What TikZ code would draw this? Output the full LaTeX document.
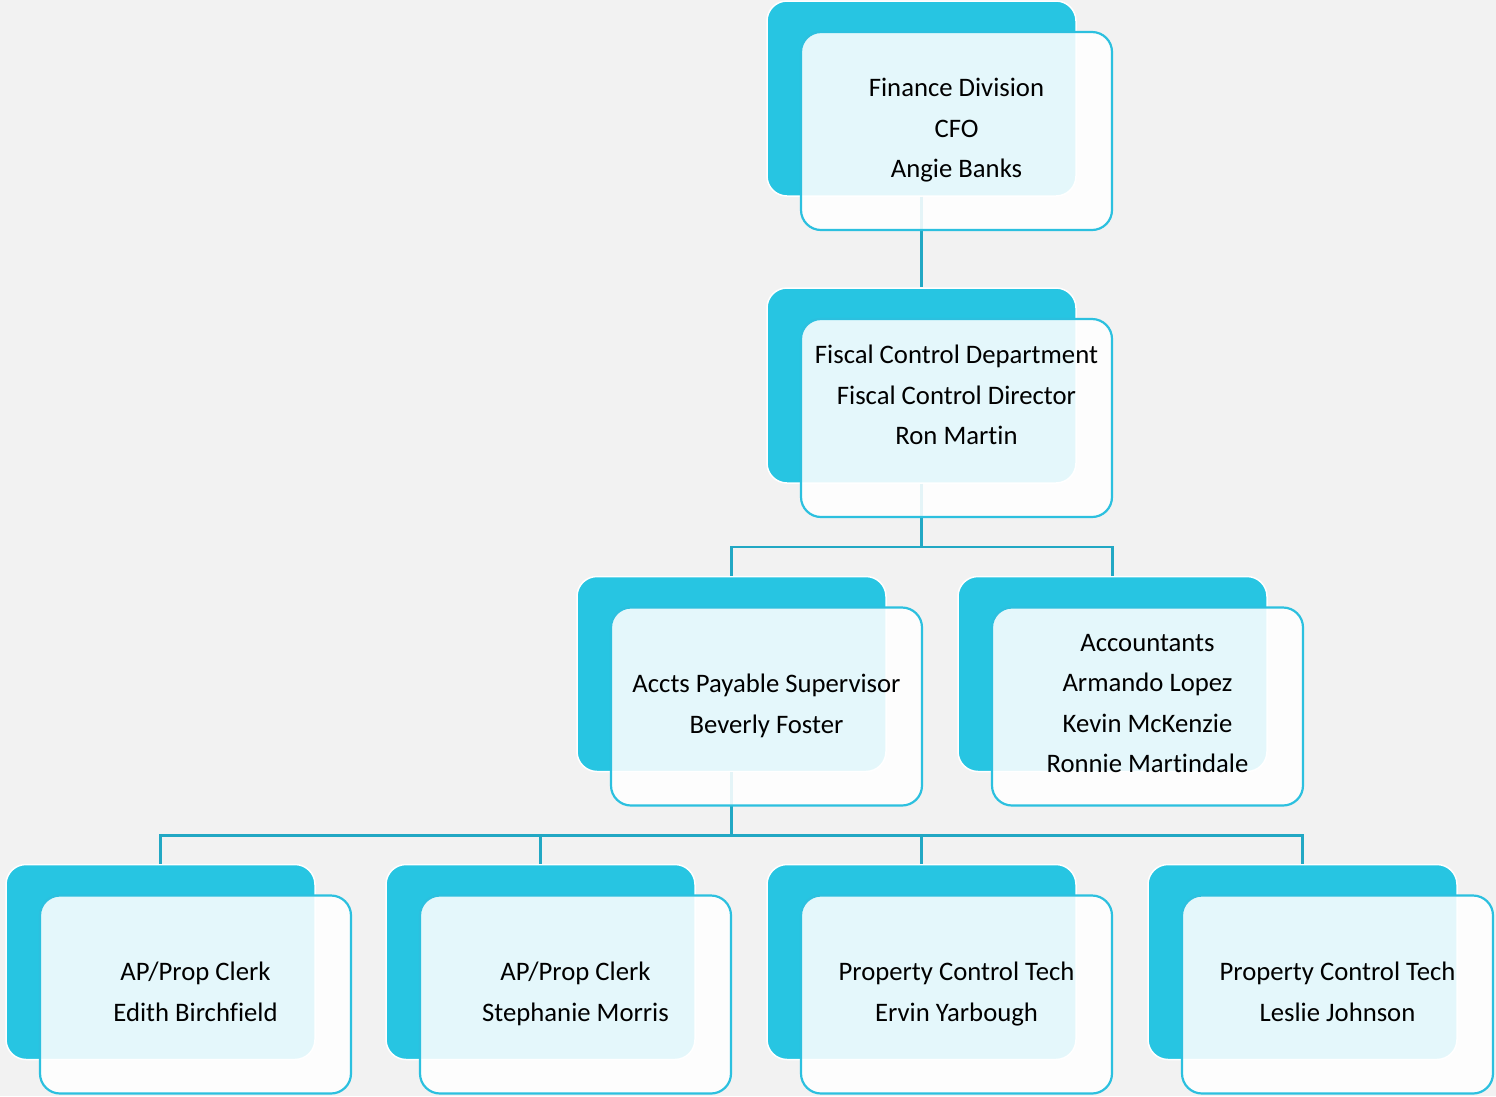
\documentclass[tikz,border=0pt]{standalone}
\usepackage{fontspec}
\setmainfont[RawFeature={-liga;-clig;-dlig;-calt}]{Carlito}
\usetikzlibrary{positioning}
\definecolor{cyanbox}{HTML}{27C5E2}
\definecolor{cyanedge}{HTML}{2CC0DF}
\definecolor{linkcol}{HTML}{22A8C4}
\definecolor{bggray}{HTML}{F2F2F2}
\newcommand{\topstrut}{\rule{0pt}{40.5pt}}
\newcommand{\botstrut}{\rule[-6pt]{0pt}{6pt}}

\begin{document}
\begin{tikzpicture}[x=1pt,y=-1pt,
  backbox/.style={draw=white,line width=1.5pt,fill=cyanbox,rounded corners=20pt,
    minimum width=309pt,minimum height=195pt,inner sep=0pt},
  frontbox/.style={draw=cyanedge,line width=2.2pt,fill=white,fill opacity=0.88,text opacity=1,
    rounded corners=20pt,minimum width=311pt,minimum height=198pt,inner sep=0pt,
    align=center,font=\fontsize{26.7}{40.5}\selectfont,xshift=35pt,yshift=-32.5pt,
    execute at begin node=\topstrut,execute at end node=\botstrut},
  link/.style={draw=linkcol,line width=2.5pt}]
\fill[bggray] (0,0) rectangle (1496,1096);
\useasboundingbox (0,0) rectangle (1496,1096);

% back cards
\node[backbox] (cfo) at (921.5,98.5) {};
\node[backbox] (fiscal) at (921.5,385.5) {};
\node[backbox] (ap) at (731.5,674) {};
\node[backbox] (acct) at (1112.5,674) {};
\node[backbox] (clerka) at (160.5,962) {};
\node[backbox] (clerkb) at (540.5,962) {};
\node[backbox] (techa) at (921.5,962) {};
\node[backbox] (techb) at (1302.5,962) {};

% links
\draw[link] (cfo.south) -- (fiscal.north);
\draw[link] (fiscal.south) -- ++(0,63) -| (ap.north);
\draw[link] (fiscal.south) -- ++(0,63) -| (acct.north);
\foreach \n in {clerka,clerkb,techa,techb}
  \draw[link] (ap.south) -- ++(0,63) -| (\n.north);

% front cards
\node[frontbox,at=(cfo.center)] (cfotxt) {Finance Division\\CFO\\Angie Banks};
\node[frontbox,at=(fiscal.center)] (fiscaltxt) {Fiscal Control Department\\Fiscal Control Director\\Ron Martin\\ \mbox{}};
\node[frontbox,at=(ap.center)] (aptxt) {Accts Payable Supervisor\\Beverly Foster};
\node[frontbox,at=(acct.center)] (accttxt) {Accountants\\Armando Lopez\\Kevin McKenzie\\Ronnie Martindale};
\node[frontbox,at=(clerka.center)] (clerkatxt) {AP/Prop Clerk\\Edith Birchfield};
\node[frontbox,at=(clerkb.center)] (clerkbtxt) {AP/Prop Clerk\\Stephanie Morris};
\node[frontbox,at=(techa.center)] (techatxt) {Property Control Tech\\Ervin Yarbough};
\node[frontbox,at=(techb.center)] (techbtxt) {Property Control Tech\\Leslie Johnson};
\end{tikzpicture}
\end{document}
